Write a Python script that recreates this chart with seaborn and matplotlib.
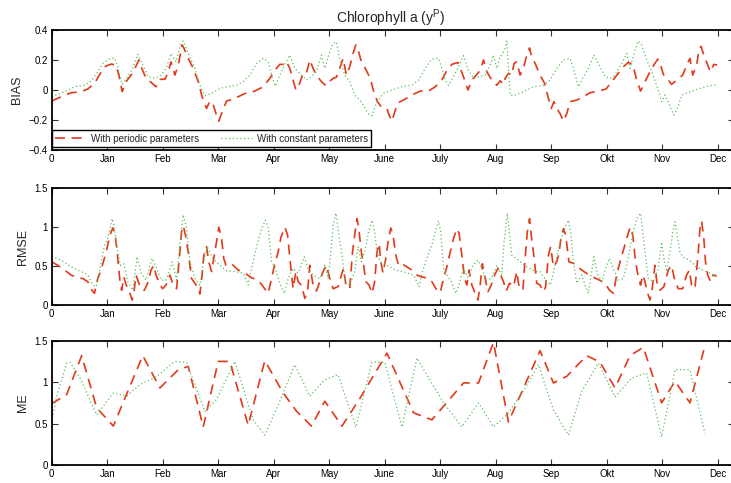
import numpy as np
import pandas as pd
import matplotlib
matplotlib.use("Agg")
import matplotlib.pyplot as plt
import seaborn as sns

# x axis: months since start (0 = start, 1 = Jan, ..., 12 = Dec)
month_labels = ["0", "Jan", "Feb", "Mar", "Apr", "May", "June", "July",
                "Aug", "Sep", "Okt", "Nov", "Dec"]

# BIAS, periodic parameters
bias_per_x = [0.00, 0.17, 0.35, 0.53, 0.65, 0.77, 0.86, 0.95, 1.07, 1.16, 1.21, 1.27, 1.34, 1.43,
              1.50, 1.57, 1.61, 1.70, 1.79, 1.88, 1.95, 2.04, 2.10, 2.15, 2.22, 2.28, 2.35, 2.38,
              2.46, 2.55, 2.64, 2.71, 2.79, 2.85, 2.91, 2.97, 3.01, 3.06, 3.15, 3.30, 3.48, 3.66,
              3.81, 3.93, 4.02, 4.11, 4.20, 4.23, 4.29, 4.34, 4.40, 4.46, 4.53, 4.59, 4.65, 4.71,
              4.77, 4.86, 4.94, 5.00, 5.07, 5.13, 5.19, 5.25, 5.31, 5.37, 5.43, 5.48, 5.52, 5.57,
              5.65, 5.74, 5.81, 5.87, 5.93, 6.04, 6.08, 6.13, 6.17, 6.23, 6.37, 6.49, 6.64, 6.79,
              6.91, 7.03, 7.12, 7.21, 7.32, 7.42, 7.50, 7.57, 7.65, 7.72, 7.78, 7.84, 7.93, 8.02,
              8.08, 8.14, 8.17, 8.23, 8.29, 8.33, 8.38, 8.44, 8.50, 8.56, 8.61, 8.64, 8.71, 8.80,
              8.88, 8.95, 9.00, 9.05, 9.10, 9.16, 9.22, 9.28, 9.34, 9.46, 9.58, 9.70, 9.85, 9.99,
              10.09, 10.21, 10.30, 10.39, 10.47, 10.54, 10.61, 10.69, 10.75, 10.81, 10.92, 10.98,
              11.02, 11.11, 11.17, 11.26, 11.37, 11.44, 11.50, 11.55, 11.62, 11.67, 11.70, 11.77,
              11.87, 11.93, 11.99]
bias_per = [-0.076, -0.047, -0.020, -0.013, 0.005, 0.043, 0.098, 0.154, 0.172, 0.165, 0.098, -0.013,
            0.054, 0.098, 0.143, 0.200, 0.154, 0.076, 0.050, 0.020, 0.070, 0.070, 0.120, 0.187,
            0.098, 0.165, 0.300, 0.280, 0.210, 0.143, 0.054, -0.047, -0.125, -0.076, -0.100,
            -0.170, -0.210, -0.160, -0.076, -0.058, -0.025, -0.009, 0.020, 0.076, 0.130, 0.170,
            0.170, 0.187, 0.143, 0.076, -0.002, 0.036, 0.110, 0.110, 0.200, 0.143, 0.098, 0.054,
            0.027, 0.054, 0.076, 0.085, 0.143, 0.210, 0.098, 0.154, 0.243, 0.300, 0.270, 0.200,
            0.143, 0.076, -0.025, -0.080, -0.110, -0.125, -0.170, -0.210, -0.160, -0.090, -0.062,
            -0.035, -0.009, -0.009, 0.020, 0.065, 0.130, 0.170, 0.183, 0.087, -0.002, 0.065,
            0.098, 0.130, 0.200, 0.120, 0.065, 0.030, 0.060, 0.036, 0.076, 0.110, 0.098, 0.176,
            0.187, 0.098, 0.143, 0.232, 0.280, 0.232, 0.176, 0.098, 0.043, -0.058, -0.125, -0.080,
            -0.125, -0.160, -0.210, -0.160, -0.080, -0.069, -0.047, -0.020, -0.009, 0.005, 0.054,
            0.110, 0.154, 0.183, 0.170, 0.065, -0.009, 0.054, 0.098, 0.143, 0.205, 0.154, 0.103,
            0.065, 0.036, 0.065, 0.098, 0.165, 0.210, 0.098, 0.165, 0.280, 0.290, 0.210, 0.120,
            0.170, 0.165]

# BIAS, constant parameters
bias_con_x = [0.00, 0.23, 0.41, 0.59, 0.71, 0.83, 0.92, 1.05, 1.13, 1.19, 1.27, 1.37, 1.46, 1.55,
              1.67, 1.74, 1.86, 1.97, 2.06, 2.15, 2.24, 2.32, 2.37, 2.46, 2.58, 2.67, 2.76, 2.88,
              3.03, 3.15, 3.33, 3.45, 3.57, 3.69, 3.81, 3.90, 3.97, 4.03, 4.11, 4.20, 4.29, 4.38,
              4.47, 4.59, 4.68, 4.77, 4.86, 4.92, 5.01, 5.07, 5.13, 5.19, 5.28, 5.37, 5.46, 5.55,
              5.61, 5.70, 5.77, 5.86, 5.97, 6.13, 6.31, 6.49, 6.61, 6.73, 6.85, 6.97, 7.03, 7.09,
              7.15, 7.24, 7.33, 7.42, 7.51, 7.60, 7.69, 7.81, 7.90, 7.96, 8.02, 8.08, 8.16, 8.20,
              8.23, 8.26, 8.33, 8.50, 8.68, 8.86, 8.98, 9.10, 9.22, 9.34, 9.40, 9.49, 9.58, 9.67,
              9.77, 9.85, 9.97, 10.06, 10.15, 10.27, 10.36, 10.42, 10.51, 10.57, 10.63, 10.71,
              10.80, 10.90, 10.99, 11.05, 11.13, 11.21, 11.29, 11.35, 11.50, 11.68, 11.86, 11.99]
bias_con = [-0.047, -0.013, 0.020, 0.030, 0.058, 0.120, 0.176, 0.210, 0.213, 0.154, 0.036, 0.087,
            0.143, 0.237, 0.143, 0.087, 0.076, 0.098, 0.143, 0.243, 0.187, 0.300, 0.326, 0.243,
            0.143, 0.030, -0.040, -0.025, 0.009, 0.020, 0.030, 0.054, 0.098, 0.176, 0.210, 0.187,
            0.087, 0.025, 0.098, 0.170, 0.232, 0.143, 0.110, 0.065, 0.087, 0.120, 0.232, 0.143,
            0.254, 0.310, 0.320, 0.210, 0.098, 0.054, -0.035, -0.069, -0.100, -0.160, -0.174,
            -0.080, -0.025, -0.002, 0.020, 0.030, 0.065, 0.143, 0.205, 0.210, 0.143, 0.065, 0.030,
            0.087, 0.154, 0.228, 0.130, 0.076, 0.087, 0.098, 0.165, 0.232, 0.143, 0.220, 0.265,
            0.326, 0.150, -0.035, -0.040, -0.013, 0.020, 0.030, 0.065, 0.143, 0.200, 0.210, 0.143,
            0.020, 0.087, 0.143, 0.232, 0.176, 0.087, 0.076, 0.098, 0.176, 0.243, 0.143, 0.265,
            0.326, 0.300, 0.210, 0.130, 0.030, -0.080, -0.035, -0.100, -0.170, -0.113, -0.035,
            -0.013, 0.009, 0.027, 0.036]

# RMSE, periodic parameters
rmse_per_x = [0.00, 0.11, 0.23, 0.35, 0.47, 0.56, 0.65, 0.71, 0.77, 0.83, 0.89, 0.98, 1.05, 1.10,
              1.14, 1.18, 1.23, 1.26, 1.30, 1.34, 1.40, 1.45, 1.48, 1.52, 1.56, 1.61, 1.67, 1.74,
              1.79, 1.84, 1.88, 1.95, 2.00, 2.06, 2.13, 2.19, 2.25, 2.31, 2.34, 2.37, 2.41, 2.46,
              2.52, 2.58, 2.64, 2.67, 2.71, 2.74, 2.79, 2.83, 2.88, 2.92, 2.97, 3.01, 3.06, 3.10,
              3.14, 3.24, 3.36, 3.48, 3.60, 3.72, 3.81, 3.90, 3.96, 4.02, 4.08, 4.13, 4.20, 4.25,
              4.28, 4.31, 4.35, 4.40, 4.44, 4.50, 4.56, 4.61, 4.65, 4.71, 4.77, 4.83, 4.89, 4.95,
              5.01, 5.07, 5.16, 5.22, 5.26, 5.30, 5.37, 5.42, 5.47, 5.50, 5.53, 5.58, 5.62, 5.66,
              5.72, 5.77, 5.82, 5.86, 5.90, 5.93, 5.97, 6.02, 6.07, 6.11, 6.15, 6.20, 6.25, 6.31,
              6.40, 6.49, 6.58, 6.67, 6.76, 6.85, 6.94, 7.00, 7.06, 7.12, 7.18, 7.24, 7.30, 7.34,
              7.39, 7.44, 7.48, 7.52, 7.57, 7.63, 7.68, 7.72, 7.76, 7.81, 7.86, 7.92, 7.98, 8.04,
              8.08, 8.14, 8.19, 8.25, 8.32, 8.38, 8.42, 8.49, 8.53, 8.57, 8.61, 8.64, 8.69, 8.74,
              8.80, 8.86, 8.90, 8.95, 8.99, 9.04, 9.10, 9.14, 9.17, 9.22, 9.26, 9.32, 9.42, 9.51,
              9.63, 9.75, 9.87, 9.97, 10.05, 10.12, 10.18, 10.24, 10.30, 10.36, 10.42, 10.47,
              10.51, 10.55, 10.61, 10.65, 10.69, 10.73, 10.78, 10.82, 10.87, 10.91, 10.96, 11.03,
              11.11, 11.17, 11.23, 11.29, 11.37, 11.44, 11.49, 11.53, 11.59, 11.65, 11.68, 11.71,
              11.75, 11.78, 11.82, 11.87, 11.92, 11.98]
rmse_per = [0.555, 0.51, 0.45, 0.385, 0.35, 0.34, 0.30, 0.205, 0.15, 0.34, 0.45, 0.68, 0.90, 0.99,
            0.92, 0.68, 0.30, 0.19, 0.36, 0.26, 0.17, 0.064, 0.15, 0.385, 0.30, 0.21, 0.19, 0.30,
            0.45, 0.51, 0.385, 0.256, 0.21, 0.256, 0.385, 0.256, 0.21, 0.68, 0.94, 1.02, 0.90,
            0.68, 0.34, 0.28, 0.21, 0.14, 0.385, 0.64, 0.75, 0.555, 0.43, 0.60, 0.81, 1.00, 0.86,
            0.60, 0.51, 0.53, 0.45, 0.41, 0.35, 0.32, 0.235, 0.15, 0.34, 0.53, 0.68, 0.87, 1.00,
            0.90, 0.68, 0.47, 0.21, 0.43, 0.30, 0.256, 0.086, 0.17, 0.51, 0.256, 0.18, 0.30, 0.43,
            0.51, 0.34, 0.21, 0.235, 0.385, 0.47, 0.256, 0.21, 0.68, 0.96, 1.11, 1.00, 0.68, 0.51,
            0.30, 0.256, 0.15, 0.30, 0.68, 0.79, 0.555, 0.41, 0.60, 0.855, 0.99, 0.90, 0.64, 0.51,
            0.53, 0.49, 0.45, 0.385, 0.36, 0.35, 0.30, 0.19, 0.16, 0.34, 0.49, 0.68, 0.855, 0.98,
            0.92, 0.64, 0.34, 0.256, 0.45, 0.256, 0.15, 0.064, 0.256, 0.53, 0.34, 0.17, 0.256,
            0.385, 0.47, 0.40, 0.30, 0.18, 0.28, 0.235, 0.43, 0.235, 0.19, 0.60, 0.94, 1.11, 0.90,
            0.62, 0.28, 0.256, 0.17, 0.235, 0.64, 0.75, 0.49, 0.555, 0.66, 0.83, 0.98, 0.90,
            0.555, 0.53, 0.47, 0.41, 0.36, 0.32, 0.28, 0.19, 0.15, 0.385, 0.555, 0.705, 0.855,
            1.00, 0.90, 0.62, 0.43, 0.256, 0.385, 0.30, 0.17, 0.064, 0.21, 0.51, 0.256, 0.19,
            0.235, 0.45, 0.51, 0.30, 0.21, 0.21, 0.385, 0.45, 0.256, 0.21, 0.68, 0.98, 1.08,
            0.855, 0.555, 0.385, 0.30, 0.385, 0.375]

# RMSE, constant parameters
rmse_con_x = [0.00, 0.17, 0.35, 0.53, 0.65, 0.74, 0.80, 0.86, 0.95, 1.01, 1.09, 1.13, 1.19, 1.24,
              1.30, 1.37, 1.46, 1.54, 1.61, 1.70, 1.81, 1.88, 1.97, 2.06, 2.17, 2.25, 2.31, 2.37,
              2.43, 2.49, 2.58, 2.67, 2.73, 2.80, 2.90, 3.03, 3.15, 3.30, 3.45, 3.54, 3.60, 3.69,
              3.78, 3.85, 3.90, 3.96, 4.02, 4.11, 4.19, 4.26, 4.35, 4.44, 4.55, 4.62, 4.71, 4.83,
              4.92, 4.98, 5.03, 5.07, 5.12, 5.16, 5.22, 5.29, 5.37, 5.46, 5.52, 5.58, 5.64, 5.71,
              5.77, 5.82, 5.86, 5.92, 6.04, 6.19, 6.37, 6.52, 6.62, 6.68, 6.76, 6.85, 6.91, 6.97,
              7.01, 7.06, 7.12, 7.20, 7.28, 7.34, 7.41, 7.50, 7.59, 7.68, 7.75, 7.83, 7.92, 8.02,
              8.11, 8.15, 8.21, 8.25, 8.29, 8.41, 8.56, 8.71, 8.80, 8.92, 8.99, 9.07, 9.16, 9.25,
              9.31, 9.35, 9.40, 9.46, 9.55, 9.61, 9.67, 9.73, 9.77, 9.83, 9.91, 9.99, 10.05, 10.12,
              10.21, 10.30, 10.36, 10.45, 10.54, 10.61, 10.65, 10.69, 10.75, 10.84, 10.93, 10.99,
              11.03, 11.08, 11.14, 11.19, 11.23, 11.27, 11.32, 11.37, 11.49, 11.61, 11.73, 11.85,
              11.98]
rmse_con = [0.62, 0.577, 0.49, 0.43, 0.385, 0.256, 0.235, 0.43, 0.77, 0.855, 1.11, 0.98, 0.68,
            0.51, 0.53, 0.30, 0.19, 0.62, 0.41, 0.32, 0.60, 0.49, 0.32, 0.32, 0.555, 0.32, 0.81,
            1.16, 0.98, 0.555, 0.34, 0.256, 0.53, 0.75, 0.60, 0.51, 0.44, 0.43, 0.41, 0.256, 0.47,
            0.75, 0.98, 1.09, 1.00, 0.555, 0.49, 0.28, 0.15, 0.34, 0.47, 0.41, 0.62, 0.47, 0.385,
            0.34, 0.51, 0.34, 0.68, 1.02, 1.18, 0.98, 0.68, 0.30, 0.256, 0.43, 0.75, 0.555, 0.68,
            0.94, 1.09, 0.94, 0.68, 0.555, 0.51, 0.45, 0.42, 0.385, 0.235, 0.43, 0.60, 0.77, 0.94,
            1.08, 0.94, 0.47, 0.385, 0.30, 0.15, 0.256, 0.47, 0.36, 0.51, 0.577, 0.47, 0.32, 0.34,
            0.51, 0.385, 0.80, 1.18, 0.90, 0.64, 0.577, 0.49, 0.43, 0.43, 0.30, 0.256, 0.51, 0.81,
            1.00, 1.09, 0.94, 0.555, 0.28, 0.385, 0.256, 0.15, 0.43, 0.62, 0.41, 0.30, 0.49, 0.60,
            0.47, 0.32, 0.34, 0.51, 0.855, 1.11, 1.18, 0.94, 0.68, 0.34, 0.30, 0.47, 0.81, 0.60,
            0.43, 0.68, 0.94, 1.07, 0.90, 0.68, 0.62, 0.577, 0.49, 0.45, 0.41, 0.36]

# ME, periodic parameters
me_per_x = [0.00, 0.27, 0.54, 0.81, 1.11, 1.64, 1.95, 2.28, 2.46, 2.73, 3.00, 3.21, 3.54, 3.84,
            4.17, 4.41, 4.68, 4.92, 5.23, 5.55, 6.04, 6.52, 6.85, 7.42, 7.69, 7.96, 8.23, 8.80,
            9.04, 9.28, 9.64, 9.88, 10.15, 10.42, 10.66, 10.99, 11.23, 11.50, 11.77]
me_per = [0.74, 0.85, 1.32, 0.69, 0.47, 1.32, 0.93, 1.15, 1.19, 0.46, 1.25, 1.25, 0.48, 1.26,
          0.87, 0.65, 0.47, 0.77, 0.47, 0.80, 1.35, 0.63, 0.545, 0.99, 0.99, 1.48, 0.52, 1.38,
          0.99, 1.07, 1.32, 1.24, 0.93, 1.32, 1.42, 0.75, 1.01, 0.75, 1.44]

# ME, constant parameters
me_con_x = [0.00, 0.09, 0.27, 0.33, 0.51, 0.81, 1.11, 1.35, 1.59, 1.89, 2.22, 2.43, 2.76, 2.97,
            3.30, 3.63, 3.84, 4.11, 4.38, 4.65, 4.92, 5.16, 5.48, 5.77, 6.00, 6.31, 6.58, 7.06,
            7.39, 7.69, 7.96, 8.20, 8.50, 8.77, 9.04, 9.31, 9.55, 9.85, 10.15, 10.45, 10.72,
            10.99, 11.23, 11.50, 11.77]
me_con = [0.52, 0.83, 1.23, 1.24, 1.05, 0.605, 0.87, 0.83, 0.97, 1.07, 1.25, 1.24, 0.645, 0.79,
          1.25, 0.545, 0.36, 0.77, 1.21, 0.83, 1.03, 1.09, 0.456, 1.24, 1.24, 0.456, 1.29, 0.75,
          0.46, 0.75, 0.46, 0.605, 0.89, 1.21, 0.665, 0.36, 0.89, 1.23, 0.82, 1.05, 1.11, 0.34,
          1.15, 1.15, 0.38]

red = "#e3391b"
green = "#5cbf5c"

sns.set_theme(style="ticks")
plt.rcParams["font.family"] = ["Liberation Sans", "DejaVu Sans"]

fig = plt.figure(figsize=(7.31, 4.83), dpi=100)
W, H = 731.0, 483.0
left = 51.7 / W
width = (734.0 - 51.7) / W
# (top px, bottom px) of each panel
panels = [(30.0, 149.5), (188.3, 305.0), (340.7, 465.0)]
axes = [fig.add_axes([left, 1 - b / H, width, (b - t) / H]) for t, b in panels]

series = [
    (bias_per_x, bias_per, bias_con_x, bias_con, "BIAS", (-0.4, 0.4), [-0.4, -0.2, 0, 0.2, 0.4]),
    (rmse_per_x, rmse_per, rmse_con_x, rmse_con, "RMSE", (0, 1.5), [0, 0.5, 1, 1.5]),
    (me_per_x, me_per, me_con_x, me_con, "ME", (0, 1.5), [0, 0.5, 1, 1.5]),
]

for ax, (xp, yp, xc, yc, name, ylim, yt) in zip(axes, series):
    per = pd.DataFrame({"x": xp, "y": yp})
    con = pd.DataFrame({"x": xc, "y": yc})
    sns.lineplot(data=per, x="x", y="y", ax=ax, color=red, linewidth=1.2,
                 linestyle=(0, (6, 4)), estimator=None, sort=False,
                 label="With periodic parameters")
    sns.lineplot(data=con, x="x", y="y", ax=ax, color=green, linewidth=0.9,
                 linestyle=(0, (1, 2)), estimator=None, sort=False,
                 label="With constant parameters")
    ax.set_xlim(0, (734.0 - 51.7) / 55.5)
    ax.set_ylim(*ylim)
    ax.set_yticks(yt)
    ax.set_yticklabels([f"{v:g}".replace("-", "\u2212") for v in yt])
    ax.set_xticks(range(13))
    ax.set_xticklabels(month_labels)
    ax.set_xlabel("")
    ax.set_ylabel(name, fontsize=9, labelpad=4)
    ax.tick_params(direction="in", top=True, right=True, length=4, width=0.8,
                   labelsize=7, pad=3, colors="#333333", labelcolor="black")
    for sp in ax.spines.values():
        sp.set_linewidth(1.3)
        sp.set_color("black")
    if ax is axes[0]:
        leg = ax.legend(loc="lower left", bbox_to_anchor=(0.0, 0.02), ncol=2,
                        fontsize=7, frameon=True, fancybox=False, borderaxespad=0,
                        handlelength=3.2, columnspacing=2.2, borderpad=0.35,
                        handletextpad=0.5)
        leg.get_frame().set_edgecolor("black")
        leg.get_frame().set_linewidth(1.0)
        leg.get_frame().set_alpha(1)
    else:
        ax.get_legend().remove()

fig.text(391 / W, 1 - 18 / H, "Chlorophyll a (y$^\\mathregular{P}$)", ha="center",
         va="center", fontsize=10)

fig.savefig("out.png", dpi=100)
